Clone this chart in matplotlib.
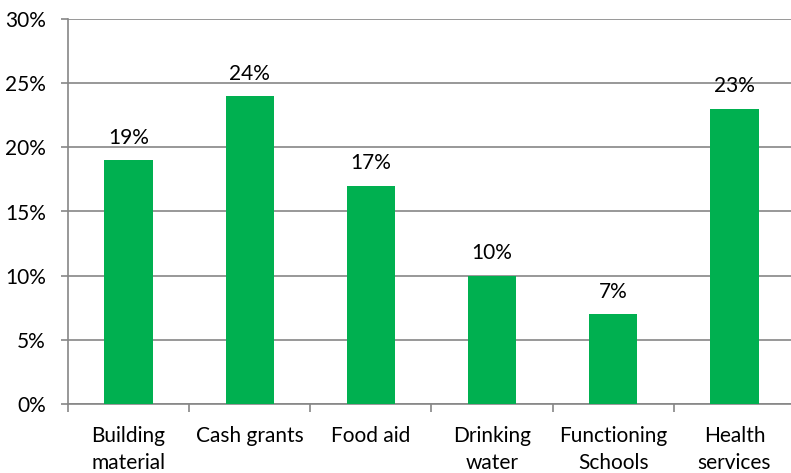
import matplotlib.pyplot as plt
from matplotlib.ticker import FuncFormatter

# Survey shares by type of assistance
categories = ["Building\nmaterial", "Cash grants", "Food aid",
              "Drinking\nwater", "Functioning\nSchools", "Health\nservices"]
values = [19, 24, 17, 10, 7, 23]
yticks = [0, 5, 10, 15, 20, 25, 30]

plt.rcParams['font.family'] = ['Lato', 'DejaVu Sans']

fig = plt.figure(figsize=(7.91, 4.73), dpi=100)
# right edge runs past the canvas, like the cropped original
ax = fig.add_axes([68 / 791, 69 / 473, 727 / 791, 385 / 473])

x = range(len(values))
ax.bar(x, values, width=0.4, color="#00B050", zorder=3)

fs = 15
for xi, v in zip(x, values):
    ax.annotate(f"{v}%", (xi, v), xytext=(0, 9), textcoords="offset points",
                ha="center", va="bottom", fontsize=fs, color="black")

ax.set_xlim(-0.5, len(values) - 0.5)
ax.set_ylim(0, 30)
ax.set_yticks(yticks)
ax.yaxis.set_major_formatter(FuncFormatter(lambda v, p: f"{v:.0f}%"))
ax.grid(axis="y", color="#868686", linewidth=1.2, zorder=0)

ax.set_xticks([i + 0.5 for i in range(-1, len(values))], minor=False)
ax.set_xticklabels([])
ax.set_xticks(list(x), minor=True)
ax.set_xticklabels(categories, minor=True, fontsize=fs, linespacing=1.45)
ax.tick_params(axis="x", which="minor", length=0, pad=16)
ax.tick_params(axis="x", which="major", length=6, color="#868686", width=1.2)
ax.tick_params(axis="y", length=5, color="#868686", width=1.2, labelsize=fs, pad=11)

for side in ["top", "right"]:
    ax.spines[side].set_visible(False)
for side in ["left", "bottom"]:
    ax.spines[side].set_color("#868686")
    ax.spines[side].set_linewidth(1.2)

fig.savefig("out.png", dpi=100)
